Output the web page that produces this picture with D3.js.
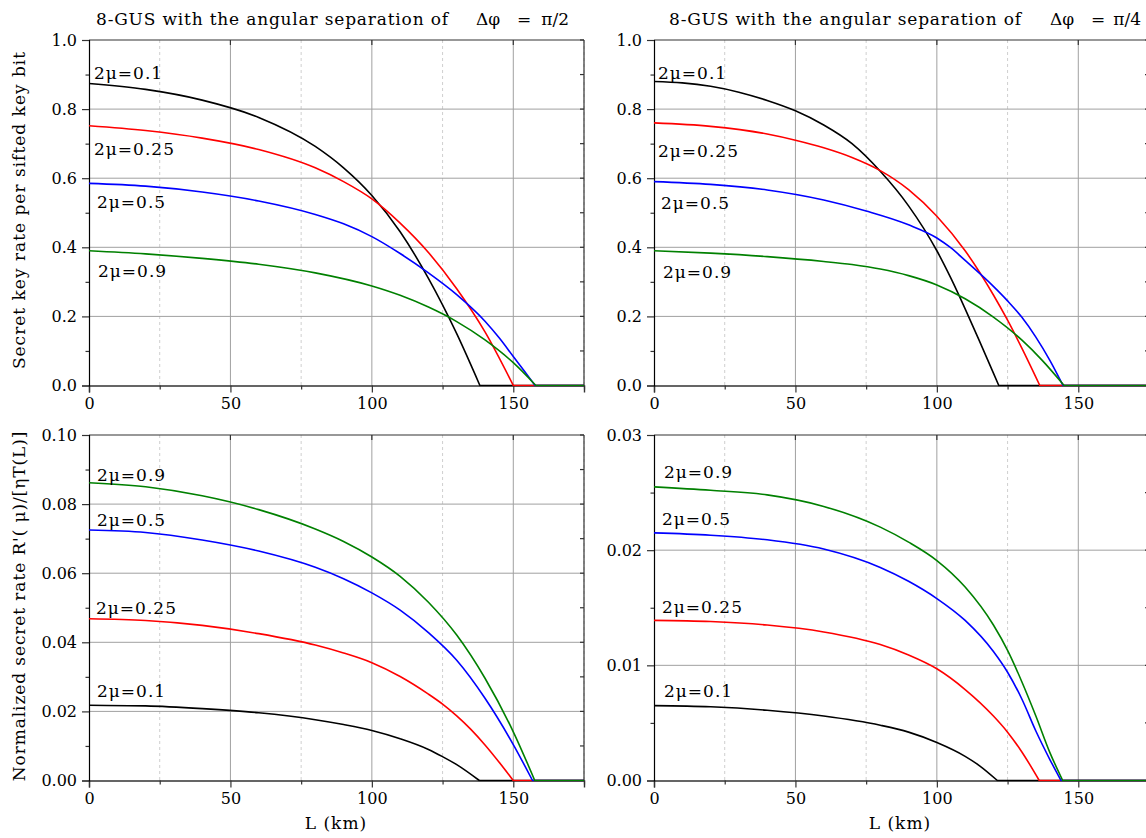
<!DOCTYPE html>
<html><head><meta charset="utf-8">
<script src="https://cdn.jsdelivr.net/npm/d3@7"></script>
<style>
body{margin:0;background:#fff}
text{font-family:"DejaVu Serif",serif;fill:#000}
</style>
</head><body>
<svg id="chart" width="1146" height="838"></svg>
<script>
// ---------------- DATA ----------------
const xMajorTicks = [0, 50, 100, 150];
const xMinorTicks = [25, 75, 125, 175];
const muLabels = ["2μ=0.1", "2μ=0.25", "2μ=0.5", "2μ=0.9"];
const titleText = "8-GUS with the angular separation of";
const titleSymbolParts = [["Δφ", "=", "π/2"], ["Δφ", "=", "π/4"]];
const yTitleTop = "Secret key rate per sifted key bit";
const yTitleBottom = "Normalized secret rate R'( μ)/[ηT(L)]";
const xTitle = "L (km)";

const topYTicks = [0, 0.2, 0.4, 0.6, 0.8, 1.0];
const topYMinor = [0.1, 0.3, 0.5, 0.7, 0.9];
const blYTicks = [0, 0.02, 0.04, 0.06, 0.08, 0.10];
const blYMinor = [0.01, 0.03, 0.05, 0.07, 0.09];
const brYTicks = [0, 0.01, 0.02, 0.03];
const brYMinor = [0.005, 0.015, 0.025];

// Top-left: secret key rate per sifted key bit, Δφ = π/2   [L (km), value]
const tlMu01  = [[0,.874],[20,.857],[40,.826],[60,.776],[80,.692],[90,.630],[100,.550],[110,.445],[120,.31],[130,.15],[138.2,0]];
const tlMu025 = [[0,.752],[20,.738],[40,.716],[60,.683],[80,.630],[90,.59],[100,.54],[110,.47],[120,.385],[130,.28],[140,.155],[150,0]];
const tlMu05  = [[0,.585],[20,.577],[40,.56],[60,.534],[80,.495],[90,.468],[100,.431],[110,.382],[120,.326],[130,.263],[140,.186],[145,.138],[150,.084],[155,.03],[157.7,0]];
const tlMu09  = [[0,.39],[20,.381],[40,.368],[60,.351],[80,.326],[100,.288],[110,.261],[120,.227],[130,.185],[140,.132],[150,.066],[158,0]];

// Top-right: Δφ = π/4
const trMu01  = [[0,.88],[10,.876],[20,.866],[30,.849],[40,.825],[50,.795],[60,.754],[70,.70],[80,.62],[90,.52],[100,.39],[105,.31],[110,.222],[115,.13],[120,.036],[121.9,0]];
const trMu025 = [[0,.76],[20,.75],[40,.728],[50,.71],[60,.688],[70,.66],[80,.622],[90,.567],[100,.49],[110,.39],[120,.262],[125,.189],[130,.109],[136.4,0]];
const trMu05  = [[0,.59],[20,.582],[40,.566],[60,.537],[75,.505],[90,.465],[100,.427],[105,.398],[110,.362],[120,.287],[125,.245],[130,.198],[135,.14],[140,.072],[144.6,0]];
const trMu09  = [[0,.39],[20,.383],[40,.373],[60,.359],[70,.35],[80,.337],[90,.318],[100,.291],[110,.251],[120,.198],[130,.132],[137,.075],[145,0]];

// Bottom-left: normalized secret rate, Δφ = π/2
const blMu01  = [[0,.0218],[20,.0216],[40,.0208],[60,.0196],[80,.0176],[90,.0162],[100,.0145],[110,.0121],[120,.009],[125,.0069],[130,.0046],[138,0]];
const blMu025 = [[0,.0468],[20,.0463],[40,.0449],[60,.0425],[80,.0392],[90,.0369],[100,.0341],[110,.0301],[120,.025],[125,.0221],[130,.0187],[135,.0148],[140,.0103],[145,.0053],[150,0]];
const blMu05  = [[0,.0725],[20,.0718],[40,.0696],[60,.0664],[80,.0617],[90,.0584],[100,.0543],[110,.0493],[120,.0428],[130,.0348],[140,.0238],[150,.0104],[156.8,0]];
const blMu09  = [[0,.0862],[20,.085],[40,.0824],[60,.0784],[80,.0728],[90,.0692],[100,.0647],[110,.0591],[120,.0516],[130,.0421],[140,.0296],[150,.0141],[157.6,0]];

// Bottom-right: Δφ = π/4
const brMu01  = [[0,.0065],[20,.0064],[40,.0061],[60,.0056],[80,.0048],[90,.0042],[100,.0033],[110,.0021],[115,.0013],[121.4,0]];
const brMu025 = [[0,.0139],[20,.0138],[40,.0135],[60,.0129],[80,.0118],[90,.0109],[100,.0097],[110,.0079],[120,.0056],[125,.0042],[130,.0025],[136.2,0]];
const brMu05  = [[0,.0215],[20,.0213],[40,.0209],[60,.0201],[80,.0185],[90,.0173],[100,.0158],[110,.0139],[120,.0112],[125,.0094],[130,.0071],[135,.0043],[140,.0018],[143.9,0]];
const brMu09  = [[0,.0255],[20,.0252],[40,.0248],[60,.0238],[80,.022],[90,.0207],[100,.0191],[110,.0168],[120,.0135],[125,.0113],[130,.0086],[135,.0056],[140,.0024],[144.5,0]];

// ---------------- LAYOUT / STYLE ----------------
const colors = ["#000000", "#ff0000", "#0000ff", "#008000"];
const fontSize = 17;
const tickFont = 16;
const panels = [
  {x0: 89, y0: 40, w: 495, h: 345.5, ymax: 1.0, ticks: topYTicks, minor: topYMinor, fmt: d3.format(".1f"),
   series: [tlMu01, tlMu025, tlMu05, tlMu09],
   labelPos: [[5,39],[5,115],[8,168],[9,237]]},
  {x0: 654, y0: 40, w: 495, h: 345.5, ymax: 1.0, ticks: topYTicks, minor: topYMinor, fmt: d3.format(".1f"),
   series: [trMu01, trMu025, trMu05, trMu09],
   labelPos: [[4,39],[4,117],[7,169],[9,238]]},
  {x0: 89, y0: 435, w: 495, h: 345.5, ymax: 0.10, ticks: blYTicks, minor: blYMinor, fmt: d3.format(".2f"),
   series: [blMu01, blMu025, blMu05, blMu09],
   labelPos: [[8,262],[7,179],[8,91],[8,46]]},
  {x0: 654, y0: 435, w: 495, h: 345.5, ymax: 0.03, ticks: brYTicks, minor: brYMinor, fmt: d3.format(".2f"),
   series: [brMu01, brMu025, brMu05, brMu09],
   labelPos: [[10,262],[8,178],[8,90],[10,43]]}
];

const svg = d3.select("#chart");
svg.append("rect").attr("width",1146).attr("height",838).attr("fill","#fff");

panels.forEach((p, pi) => {
  const x = d3.scaleLinear().domain([0, 175]).range([p.x0, p.x0 + p.w]);
  const y = d3.scaleLinear().domain([0, p.ymax]).range([p.y0 + p.h, p.y0]);
  const g = svg.append("g");
  const clipId = "clip" + pi;
  svg.append("clipPath").attr("id", clipId).append("rect")
    .attr("x", p.x0 - 1).attr("y", p.y0 - 1).attr("width", p.w + 2).attr("height", p.h + 2);

  // grid
  const grid = g.append("g");
  grid.selectAll(".vg").data(xMajorTicks.filter(d => d > 0)).join("line")
    .attr("x1", d => x(d)).attr("x2", d => x(d)).attr("y1", p.y0).attr("y2", p.y0 + p.h)
    .attr("stroke", "#a0a0a0").attr("stroke-width", 1);
  grid.selectAll(".vm").data(xMinorTicks).join("line")
    .attr("x1", d => x(d)).attr("x2", d => x(d)).attr("y1", p.y0).attr("y2", p.y0 + p.h)
    .attr("stroke", "#cfcfcf").attr("stroke-width", 1).attr("stroke-dasharray", "3,3");
  grid.selectAll(".hg").data(p.ticks.filter(d => d > 0 && d < p.ymax - 1e-9)).join("line")
    .attr("x1", p.x0).attr("x2", p.x0 + p.w).attr("y1", d => y(d)).attr("y2", d => y(d))
    .attr("stroke", "#a0a0a0").attr("stroke-width", 1);

  // frame: top and right
  g.append("line").attr("x1", p.x0).attr("x2", p.x0 + p.w).attr("y1", p.y0).attr("y2", p.y0)
    .attr("stroke", "#333").attr("stroke-width", 1.2);
  g.append("line").attr("x1", p.x0 + p.w).attr("x2", p.x0 + p.w).attr("y1", p.y0).attr("y2", p.y0 + p.h)
    .attr("stroke", "#333").attr("stroke-width", 1.2);
  g.selectAll(".tt").data(xMajorTicks.filter(d => d > 0)).join("line")
    .attr("x1", d => x(d)).attr("x2", d => x(d)).attr("y1", p.y0).attr("y2", p.y0 + 5)
    .attr("stroke", "#333").attr("stroke-width", 1.2);
  g.selectAll(".rt").data(p.ticks.concat(p.minor)).join("line")
    .attr("x1", p.x0 + p.w - 4).attr("x2", p.x0 + p.w).attr("y1", d => y(d)).attr("y2", d => y(d))
    .attr("stroke", "#333").attr("stroke-width", 1.2);

  // bottom axis
  const xAxis = d3.axisBottom(x).tickValues(xMajorTicks).tickSize(7).tickPadding(5).tickFormat(d3.format("d"));
  const xa = g.append("g").attr("transform", `translate(0,${p.y0 + p.h})`).call(xAxis);
  xa.select(".domain").attr("stroke", "#333").attr("stroke-width", 1.4);
  xa.selectAll(".tick line").attr("stroke", "#333").attr("stroke-width", 1.2);
  xa.selectAll(".tick text").attr("font-size", tickFont).attr("font-family", "DejaVu Serif").attr("fill", "#000");
  const xm = d3.axisBottom(x).tickValues(xMinorTicks).tickSize(4).tickFormat("");
  const xma = g.append("g").attr("transform", `translate(0,${p.y0 + p.h})`).call(xm);
  xma.select(".domain").remove();
  xma.selectAll(".tick line").attr("stroke", "#333").attr("stroke-width", 1.2);

  // left axis
  const yAxis = d3.axisLeft(y).tickValues(p.ticks).tickSize(7).tickPadding(5).tickFormat(p.fmt);
  const ya = g.append("g").attr("transform", `translate(${p.x0},0)`).call(yAxis);
  ya.select(".domain").attr("stroke", "#000").attr("stroke-width", 1.2);
  ya.selectAll(".tick line").attr("stroke", "#333").attr("stroke-width", 1.2);
  ya.selectAll(".tick text").attr("font-size", tickFont).attr("font-family", "DejaVu Serif").attr("fill", "#000");
  const ym = d3.axisLeft(y).tickValues(p.minor).tickSize(3.5).tickFormat("");
  const yma = g.append("g").attr("transform", `translate(${p.x0},0)`).call(ym);
  yma.select(".domain").remove();
  yma.selectAll(".tick line").attr("stroke", "#333").attr("stroke-width", 1.2);

  // curves
  const line = d3.line().x(d => x(d[0])).y(d => y(d[1])).curve(d3.curveMonotoneX);
  const cg = g.append("g").attr("clip-path", `url(#${clipId})`);
  p.series.forEach((s, si) => {
    const last = s[s.length - 1];
    const flat = d3.line().x(d => x(d[0])).y(d => y(d[1]))([last, [175, 0]]);
    cg.append("path").attr("d", line(s) + flat.replace(/^M/, "L"))
      .attr("fill", "none").attr("stroke", colors[si]).attr("stroke-width", 1.6);
  });

  // curve labels
  muLabels.forEach((t, i) => {
    g.append("text").attr("x", p.x0 + p.labelPos[i][0]).attr("y", p.y0 + p.labelPos[i][1])
      .attr("font-size", fontSize).attr("letter-spacing", 1).text(t);
  });
});

// titles
const titlePos = [96, 669];
// [Δφ start, "=" centre, π/n end]
const symbolPos = [[476, 524, 569], [1050, 1098, 1141]];
const anchors = ["start", "middle", "end"];
titlePos.forEach((tx, i) => {
  svg.append("text").attr("x", tx).attr("y", 25).attr("font-size", fontSize)
    .attr("textLength", 352).attr("lengthAdjust", "spacing").text(titleText);
  titleSymbolParts[i].forEach((part, k) => {
    svg.append("text").attr("x", symbolPos[i][k]).attr("y", 25).attr("font-size", fontSize)
      .attr("text-anchor", anchors[k]).text(part);
  });
});

// axis titles
svg.append("text").attr("transform", "translate(25,210) rotate(-90)").attr("text-anchor", "middle")
  .attr("font-size", fontSize).attr("letter-spacing", 1).text(yTitleTop);
svg.append("text").attr("transform", "translate(25,606) rotate(-90)").attr("text-anchor", "middle")
  .attr("font-size", fontSize).attr("letter-spacing", 0.9).text(yTitleBottom);
[336, 900].forEach(cx => {
  svg.append("text").attr("x", cx).attr("y", 829).attr("text-anchor", "middle")
    .attr("font-size", fontSize).attr("letter-spacing", 1).text(xTitle);
});
</script>
</body></html>
